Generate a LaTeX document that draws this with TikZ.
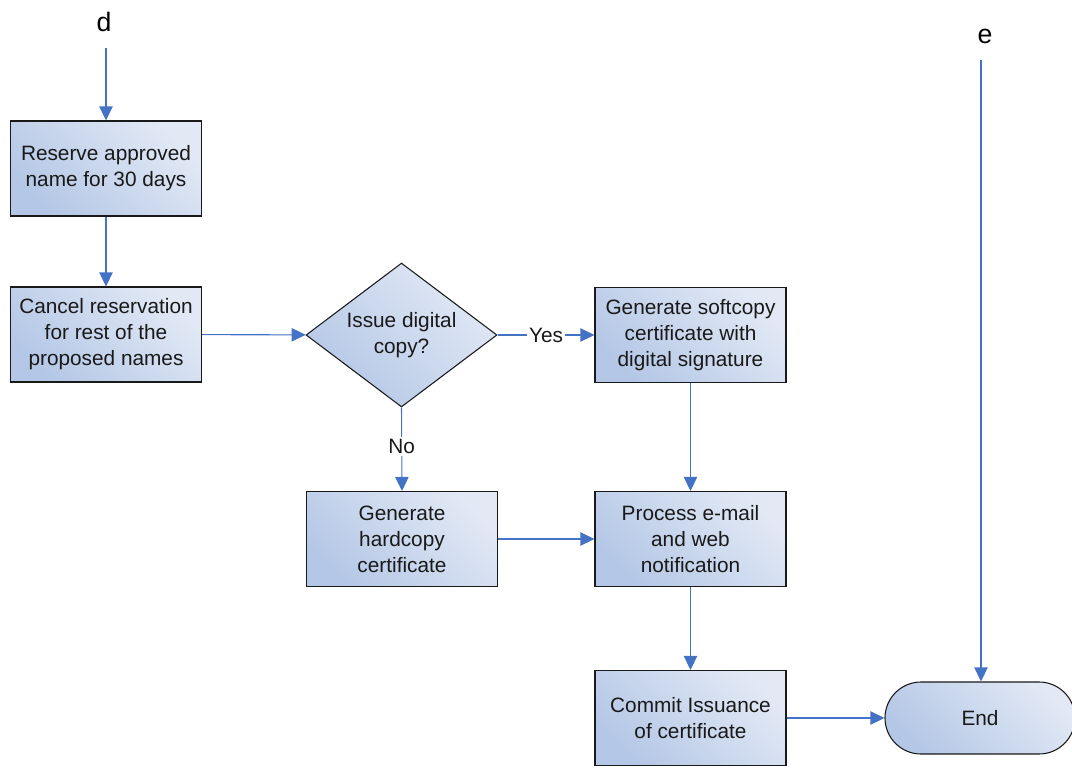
\documentclass[tikz,border=0pt]{standalone}
\usepackage{fontspec}
\setmainfont{Liberation Sans}
\usetikzlibrary{arrows.meta,shapes.geometric,shapes.misc}

\definecolor{fillDark}{RGB}{180,199,230}
\definecolor{fillLight}{RGB}{226,233,245}
\definecolor{flowBlue}{RGB}{68,114,196}
\definecolor{inkGray}{RGB}{25,25,25}

\tikzset{
  shaded/.style={top color=fillLight, bottom color=fillDark, shading angle=-45},
  procbox/.style={shaded, draw=inkGray, line width=0.8pt, rectangle,
    minimum width=143.25pt, minimum height=71.25pt, inner sep=0pt,
    align=center, font=\fontsize{15.6pt}{19.5pt}\selectfont, text=inkGray},
  decision/.style={shaded, draw=inkGray, line width=0.8pt, diamond, aspect=1.33,
    minimum width=143.25pt, minimum height=108pt, inner sep=0pt,
    align=center, font=\fontsize{15.6pt}{19.5pt}\selectfont, text=inkGray},
  terminal/.style={shaded, draw=inkGray, line width=0.8pt, rounded rectangle,
    minimum width=142.5pt, minimum height=54pt, inner sep=0pt,
    font=\fontsize{15.6pt}{19.5pt}\selectfont, text=inkGray},
  connector/.style={draw=flowBlue, line width=0.8pt,
    -{Triangle[length=10.5pt,width=10pt]}},
  plainline/.style={draw=flowBlue, line width=0.8pt},
  flowlabel/.style={fill=white, inner sep=1.5pt,
    font=\fontsize{15.6pt}{19.5pt}\selectfont, text=inkGray},
  offpage/.style={font=\fontsize{20pt}{24pt}\selectfont, text=black, inner sep=0pt}
}

\begin{document}
\begin{tikzpicture}[x=0.75pt,y=-0.75pt]
  \useasboundingbox (0,0) rectangle (1072,768);

  % off-page references
  \node[offpage] (d) at (104,22) {d};
  \node[offpage] (e) at (985,36) {e};
  \coordinate (dstart) at (106,48);
  \coordinate (estart) at (981,60);

  % process steps
  \node[procbox] (reserve) at (106,168.5) {Reserve approved\\name for 30 days};
  \node[procbox] (cancel) at (106,334.5) {Cancel reservation\\for rest of the\\proposed names};
  \node[decision] (digital) at (401.5,335) {Issue digital\\copy?};
  \node[procbox] (soft) at (690.5,335) {Generate softcopy\\certificate with\\digital signature};
  \node[procbox] (hard) at (402,539) {Generate\\hardcopy\\certificate};
  \node[procbox] (notify) at (690.5,539) {Process e-mail\\and web\\notification};
  \node[procbox] (commit) at (690.5,718) {Commit Issuance\\of certificate};
  \node[terminal] (end) at (980,718) {End};

  % flow
  \draw[connector] (dstart) -- (reserve.north);
  \draw[connector] (reserve) -- (cancel);
  \draw[connector] (cancel) -- (digital);
  \draw[connector] (digital) -- node[flowlabel, pos=0.5] {Yes} (soft);
  \draw[connector] (digital.south) -- node[flowlabel, pos=0.47] {No} (hard.north);
  \draw[connector] (soft) -- (notify);
  \draw[connector] (hard) -- (notify);
  \draw[connector] (notify) -- (commit);
  \draw[connector] (commit) -- (end);
  \draw[connector] (estart) -- (end.north -| estart);
\end{tikzpicture}
\end{document}
